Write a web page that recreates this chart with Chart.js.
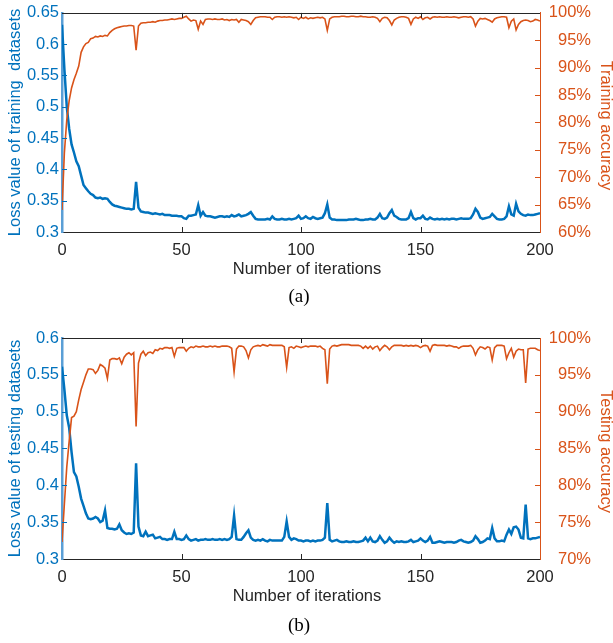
<!DOCTYPE html>
<html><head><meta charset="utf-8">
<script src="https://cdn.jsdelivr.net/npm/chart.js@4.4.1/dist/chart.umd.min.js"></script>
<style>
html,body{margin:0;padding:0;background:#fff;}
#wrap{position:relative;width:613px;height:643px;overflow:hidden;background:#fff;}
canvas{position:absolute;left:0;display:block;}
</style></head><body>
<div id="wrap">
<canvas id="ca" width="613" height="322" style="top:0"></canvas>
<canvas id="cb" width="613" height="321" style="top:322px"></canvas>
</div>
<script>
const iterations = Array.from({length:201},(_,i)=>i);
const xTicks = [0,50,100,150,200];
const lossTicksA = [0.3,0.35,0.4,0.45,0.5,0.55,0.6,0.65];
const accTicksA = [60,65,70,75,80,85,90,95,100];
const lossTicksB = [0.3,0.35,0.4,0.45,0.5,0.55,0.6];
const accTicksB = [70,75,80,85,90,95,100];

const trainLoss = [0.631,0.560,0.500,0.465,0.440,0.427,0.413,0.405,0.390,0.375,
0.370,0.365,0.361,0.359,0.355,0.354,0.355,0.353,0.354,0.353,
0.348,0.344,0.342,0.341,0.340,0.339,0.338,0.337,0.337,0.336,
0.337,0.380,0.339,0.333,0.332,0.331,0.331,0.330,0.329,0.330,
0.329,0.328,0.329,0.327,0.327,0.327,0.326,0.326,0.326,0.325,
0.325,0.322,0.321,0.326,0.326,0.327,0.328,0.343,0.326,0.332,
0.326,0.325,0.325,0.324,0.323,0.324,0.325,0.325,0.324,0.325,
0.324,0.327,0.325,0.326,0.328,0.325,0.326,0.327,0.329,0.332,
0.326,0.321,0.320,0.320,0.320,0.320,0.321,0.320,0.325,0.321,
0.320,0.320,0.321,0.320,0.320,0.321,0.320,0.321,0.322,0.326,
0.321,0.322,0.325,0.322,0.321,0.324,0.322,0.321,0.322,0.323,
0.330,0.344,0.323,0.320,0.320,0.319,0.319,0.319,0.319,0.319,
0.320,0.320,0.320,0.321,0.320,0.319,0.319,0.320,0.320,0.321,
0.320,0.320,0.323,0.329,0.322,0.321,0.323,0.330,0.335,0.326,
0.324,0.321,0.320,0.320,0.320,0.322,0.332,0.322,0.320,0.322,
0.322,0.326,0.321,0.320,0.323,0.321,0.320,0.321,0.320,0.321,
0.320,0.321,0.320,0.321,0.321,0.320,0.321,0.322,0.321,0.321,
0.321,0.322,0.328,0.337,0.332,0.323,0.321,0.322,0.323,0.324,
0.329,0.325,0.321,0.320,0.320,0.321,0.325,0.341,0.328,0.326,
0.345,0.333,0.329,0.327,0.326,0.328,0.327,0.327,0.328,0.329,
0.330];

const trainAcc = [64.0,74.5,80.5,84.0,86.3,87.8,89.0,90.3,92.8,93.8,
94.4,94.6,95.3,95.4,95.7,95.6,95.8,95.7,95.9,95.8,
96.4,96.8,97.1,97.3,97.4,97.5,97.6,97.6,97.7,97.7,
97.6,93.2,97.6,98.1,98.2,98.2,98.3,98.3,98.4,98.3,
98.5,98.6,98.6,98.7,98.7,98.8,98.9,98.8,98.9,99.0,
99.0,99.2,99.4,98.9,98.5,98.7,98.6,97.0,98.5,97.9,
98.8,98.9,98.9,98.8,98.9,98.8,98.8,98.9,98.7,98.8,
98.6,98.8,98.7,98.8,98.3,98.8,98.7,98.6,98.4,97.9,
98.6,99.1,99.2,99.3,99.3,99.3,99.2,99.2,98.8,99.2,
99.3,99.3,99.2,99.3,99.2,99.3,99.2,99.1,99.2,98.8,
99.2,99.0,99.2,98.9,99.1,99.0,99.1,99.2,99.1,99.2,
98.9,96.8,98.9,99.2,99.3,99.3,99.3,99.4,99.4,99.3,
99.3,99.4,99.4,99.3,99.3,99.4,99.3,99.3,99.2,99.2,
99.3,99.2,99.0,98.4,99.0,99.2,99.1,98.6,97.8,98.7,
99.0,99.2,99.3,99.3,99.2,99.0,97.9,98.9,99.2,99.0,
99.3,98.8,99.1,99.2,98.9,99.2,99.3,99.2,99.3,99.2,
99.2,99.3,99.2,99.2,99.3,99.2,99.1,99.2,99.3,99.3,
99.2,99.3,98.9,97.6,98.5,99.0,98.9,99.0,98.8,98.6,
98.3,98.9,99.1,99.2,99.3,99.3,99.2,97.3,98.5,98.9,
96.9,97.9,98.4,98.6,98.7,98.6,98.4,98.5,98.8,98.7,
98.5];

const testLoss = [0.561,0.530,0.495,0.478,0.445,0.418,0.412,0.398,0.382,0.372,
0.362,0.355,0.354,0.355,0.357,0.355,0.350,0.352,0.366,0.342,
0.341,0.341,0.340,0.341,0.347,0.339,0.336,0.334,0.335,0.334,
0.336,0.430,0.344,0.332,0.331,0.337,0.331,0.332,0.333,0.328,
0.329,0.330,0.327,0.327,0.326,0.327,0.327,0.337,0.327,0.327,
0.326,0.327,0.332,0.327,0.325,0.326,0.327,0.325,0.326,0.326,
0.327,0.326,0.326,0.327,0.326,0.326,0.327,0.326,0.327,0.326,
0.327,0.330,0.359,0.327,0.326,0.326,0.330,0.335,0.339,0.329,
0.326,0.325,0.326,0.325,0.327,0.325,0.324,0.326,0.325,0.325,
0.325,0.325,0.325,0.330,0.351,0.330,0.326,0.328,0.327,0.325,
0.325,0.324,0.325,0.325,0.324,0.325,0.324,0.325,0.325,0.326,
0.329,0.376,0.326,0.324,0.325,0.326,0.324,0.323,0.323,0.324,
0.323,0.323,0.324,0.323,0.323,0.324,0.325,0.329,0.324,0.329,
0.324,0.323,0.325,0.331,0.326,0.322,0.324,0.329,0.325,0.322,
0.324,0.323,0.324,0.323,0.323,0.324,0.326,0.323,0.324,0.325,
0.328,0.325,0.323,0.325,0.330,0.322,0.322,0.323,0.324,0.323,
0.322,0.323,0.323,0.323,0.322,0.323,0.325,0.326,0.324,0.323,
0.322,0.323,0.325,0.331,0.327,0.322,0.323,0.325,0.328,0.327,
0.342,0.328,0.324,0.324,0.325,0.324,0.333,0.340,0.334,0.343,
0.344,0.340,0.329,0.328,0.374,0.328,0.327,0.328,0.328,0.329,
0.330];

const testAcc = [72.3,77.5,82.5,86.0,89.2,89.4,90.0,91.6,93.0,94.0,
95.0,95.8,95.8,95.7,95.2,95.6,96.4,96.2,95.9,94.5,
97.0,97.2,97.2,97.1,97.3,96.5,97.4,97.8,98.0,97.7,
98.0,88.0,96.6,97.8,98.2,97.6,98.0,98.1,97.9,98.4,
98.3,98.6,98.5,98.7,98.7,98.6,98.7,97.5,98.6,98.7,
98.7,98.7,98.2,98.6,98.8,98.7,98.9,98.8,98.8,98.9,
98.8,98.8,98.9,98.8,98.9,98.8,98.8,98.9,98.9,98.9,
98.8,98.6,95.4,98.5,98.9,98.9,98.8,98.3,97.3,98.4,
98.8,98.9,99.0,98.9,99.1,99.0,98.9,99.1,99.0,99.0,
99.0,99.0,99.0,98.8,96.0,98.7,98.8,98.6,98.9,98.8,
98.7,98.8,98.9,98.8,98.9,98.9,98.9,98.8,98.9,98.6,
98.4,93.8,98.5,98.9,99.0,98.9,99.0,99.1,99.1,99.1,
99.1,99.0,99.0,99.0,99.0,98.9,98.6,98.9,98.6,98.9,
98.5,98.8,98.9,98.3,98.7,99.0,98.8,98.4,98.8,99.0,
99.0,99.0,99.0,98.9,99.0,98.9,99.0,98.9,99.0,98.9,
98.7,98.9,99.0,98.9,98.2,99.0,99.1,99.0,99.0,99.0,
99.0,98.9,99.0,98.9,98.8,98.8,98.6,98.8,98.9,98.9,
98.9,99.0,98.6,97.7,98.4,98.8,98.7,98.5,98.8,98.7,
97.0,98.7,99.0,99.0,99.0,98.9,97.2,98.0,98.6,97.4,
98.2,98.5,98.4,98.4,93.9,98.5,98.6,98.6,98.6,98.4,
98.3];

const BLUE = '#0072BD', ORANGE = '#D95319', AXIS_BLUE = '#5A9FD6', DARK = '#262626';
const FAM = "'Liberation Sans', Arial, Helvetica, sans-serif";
const F = {family: FAM, size: 16.5};

const decor = {
  id: 'decor',
  afterDraw(chart, args, o) {
    const {ctx, chartArea: a, scales: {x, y, y1}} = chart;
    const TL = 5;
    ctx.save();
    ctx.lineWidth = 1;
    ctx.strokeStyle = DARK;
    const ty = Math.round(a.top) + 0.5;
    ctx.beginPath(); ctx.moveTo(a.left, ty); ctx.lineTo(a.right, ty); ctx.stroke();
    x.ticks.forEach(t => {
      if (t.value === x.min || t.value === x.max) return;
      const px = Math.round(x.getPixelForValue(t.value)) + 0.5;
      ctx.beginPath();
      ctx.moveTo(px, a.bottom); ctx.lineTo(px, a.bottom - TL);
      ctx.moveTo(px, a.top); ctx.lineTo(px, a.top + TL);
      ctx.stroke();
    });
    ctx.strokeStyle = BLUE;
    y.ticks.forEach(t => {
      if (t.value === y.min || t.value === y.max) return;
      const py = Math.round(y.getPixelForValue(t.value)) + 0.5;
      ctx.beginPath(); ctx.moveTo(a.left, py); ctx.lineTo(a.left + TL, py); ctx.stroke();
    });
    ctx.strokeStyle = ORANGE;
    y1.ticks.forEach(t => {
      if (t.value === y1.min || t.value === y1.max) return;
      const py = Math.round(y1.getPixelForValue(t.value)) + 0.5;
      ctx.beginPath(); ctx.moveTo(a.right, py); ctx.lineTo(a.right - TL, py); ctx.stroke();
    });
    ctx.restore();
    // x-axis title
    ctx.save();
    ctx.fillStyle = DARK;
    ctx.font = `16.5px ${FAM}`;
    ctx.textAlign = 'center'; ctx.textBaseline = 'middle';
    ctx.fillText(o.xTitle, o.xTitleX, a.bottom + o.xTitleDy);
    ctx.restore();
    // right-axis title
    ctx.save();
    ctx.fillStyle = ORANGE;
    ctx.font = `16.5px ${FAM}`;
    ctx.textAlign = 'center'; ctx.textBaseline = 'middle';
    ctx.translate(o.rightTitleX, (a.top + a.bottom) / 2 + o.rightTitleDy);
    ctx.rotate(Math.PI / 2);
    ctx.fillText(o.rightTitle, 0, 0);
    ctx.restore();
    // caption
    ctx.save();
    ctx.fillStyle = '#000';
    ctx.font = "19px 'Liberation Serif', 'Times New Roman', serif";
    ctx.textAlign = 'center'; ctx.textBaseline = 'middle';
    ctx.fillText(o.caption, o.captionX, o.captionY);
    ctx.restore();
  }
};

function build(id, loss, acc, lossTicks, accTicks, lossTitle, accTitle, caption, padTop, padBottom, captionY) {
  return new Chart(document.getElementById(id), {
    type: 'line',
    data: {
      labels: iterations,
      datasets: [
        {data: acc, yAxisID: 'y1', borderColor: ORANGE, borderWidth: 1.6, pointRadius: 0, tension: 0, fill: false},
        {data: loss, yAxisID: 'y', borderColor: BLUE, borderWidth: 2.5, pointRadius: 0, tension: 0, fill: false}
      ]
    },
    options: {
      responsive: false, animation: false, devicePixelRatio: 1, events: [],
      layout: {padding: {top: padTop, left: 0, right: 22, bottom: padBottom}},
      plugins: {
        legend: {display: false}, tooltip: {enabled: false}, title: {display: false},
        decor: {rightTitle: accTitle, rightTitleX: 606, rightTitleDy: 3,
                xTitle: 'Number of iterations', xTitleX: 307, xTitleDy: 37,
                caption: caption, captionX: 299, captionY: captionY}
      },
      scales: {
        x: {
          type: 'linear', min: 0, max: 200,
          afterBuildTicks: s => { s.ticks = xTicks.map(v => ({value: v})); },
          afterFit: s => { s.height = 52; },
          grid: {display: false, drawTicks: false},
          border: {display: true, color: DARK, width: 1},
          ticks: {color: DARK, font: F, padding: 9, maxRotation: 0, autoSkip: false}
        },
        y: {
          position: 'left', min: lossTicks[0], max: lossTicks[lossTicks.length - 1],
          afterBuildTicks: s => { s.ticks = lossTicks.map(v => ({value: v})); },
          afterFit: s => { s.width = 62; },
          grid: {display: false, drawTicks: false},
          border: {display: true, color: AXIS_BLUE, width: 2.5},
          ticks: {color: BLUE, font: F, padding: 3, crossAlign: 'near', autoSkip: false,
                  callback: v => String(+Number(v).toFixed(2))},
          title: {display: true, text: lossTitle, color: BLUE, font: F, padding: {top: 6, bottom: 0}}
        },
        y1: {
          position: 'right', min: accTicks[0], max: accTicks[accTicks.length - 1],
          afterBuildTicks: s => { s.ticks = accTicks.map(v => ({value: v})); },
          afterFit: s => { s.width = 51; },
          grid: {display: false, drawTicks: false},
          border: {display: true, color: ORANGE, width: 1},
          ticks: {color: ORANGE, font: F, crossAlign: 'far', autoSkip: false, callback: v => v + '%'}
        }
      }
    },
    plugins: [decor]
  });
}

build('ca', trainLoss, trainAcc, lossTicksA, accTicksA, 'Loss value of training  datasets', 'Training accuracy', '(a)', 11, 38, 297);
build('cb', testLoss, testAcc, lossTicksB, accTicksB, 'Loss value of testing datasets', 'Testing accuracy', '(b)', 16, 32, 304);
</script>
</body></html>
